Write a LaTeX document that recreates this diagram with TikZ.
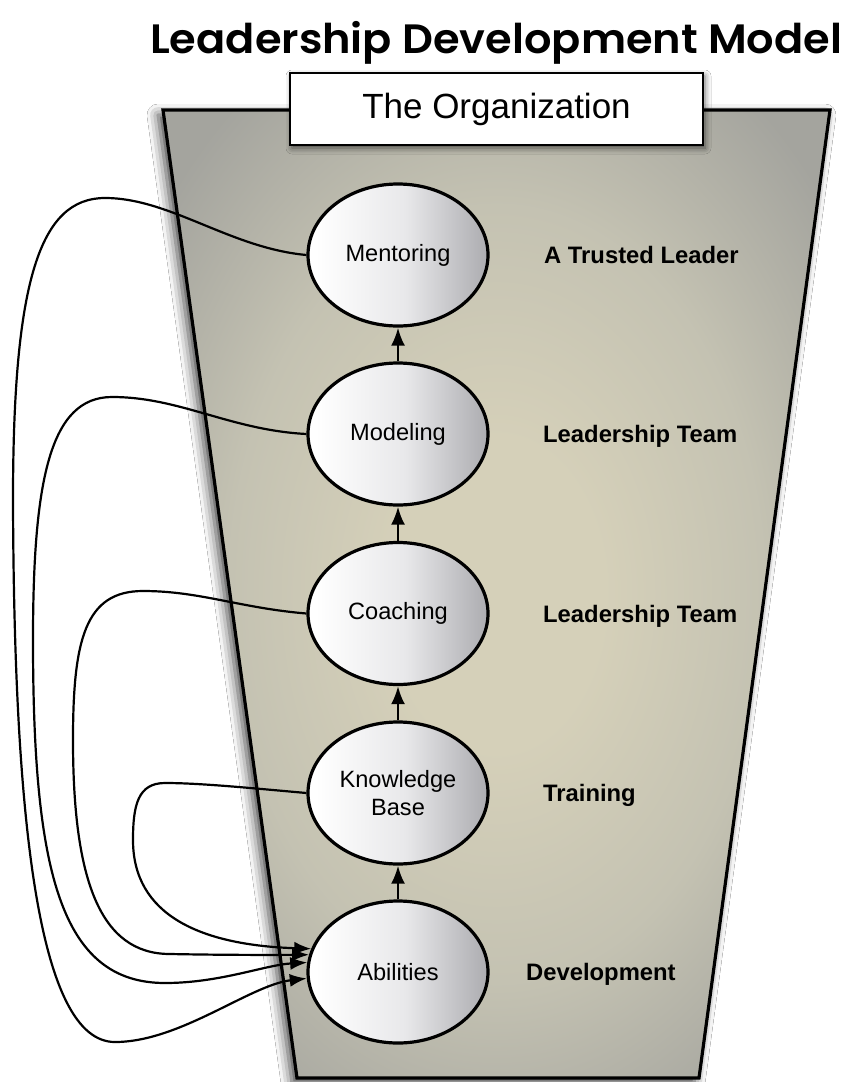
\documentclass[tikz,border=0pt]{standalone}
\usepackage{fontspec}
\usetikzlibrary{shapes.geometric,arrows.meta,shadows.blur}
\newfontfamily\helv{Liberation Sans}
\newfontfamily\titlefont{Poppins SemiBold}

\definecolor{glowin}{RGB}{213,208,185}
\definecolor{glowmid}{RGB}{196,194,178}
\definecolor{glowout}{RGB}{164,164,158}
\definecolor{ballmid}{RGB}{232,232,234}
\definecolor{ballright}{RGB}{172,172,176}

% warm glow filling the funnel
\pgfdeclareradialshading{trapglow}{\pgfpoint{0bp}{0bp}}{%
  color(0bp)=(glowin); color(8bp)=(glowin); color(20bp)=(glowmid);
  color(32bp)=(glowout); color(50bp)=(glowout)}
% left-to-right shading of the stage ellipses
\pgfdeclarehorizontalshading{ballshade}{100bp}{%
  color(0bp)=(white); color(27bp)=(white); color(52bp)=(ballmid);
  color(75bp)=(ballright); color(100bp)=(ballright)}

\tikzset{
  funnel/.style={draw=black, line width=3.2pt, line join=miter, shade, shading=trapglow,
    blur shadow={shadow xshift=-5pt, shadow yshift=-5pt, shadow blur radius=11pt, shadow opacity=75}},
  orgbox/.style={draw=black, line width=2.2pt, fill=white, minimum width=413pt, minimum height=72pt,
    inner sep=0pt, font=\helv\fontsize{35}{40}\selectfont,
    blur shadow={shadow xshift=2pt, shadow yshift=-3pt, shadow blur radius=6pt, shadow opacity=60}},
  stage/.style={ellipse, draw=black, line width=3.2pt, minimum width=180pt, minimum height=142pt,
    inner sep=0pt, shade, shading=ballshade, align=center, text=black,
    font=\helv\fontsize{23.6}{28}\selectfont},
  lab/.style={anchor=base west, inner sep=0pt, font=\helv\bfseries\fontsize{23.8}{28}\selectfont},
  uparrow/.style={line width=2.6pt, -{Latex[length=18pt,width=14pt,fill=black]}},
  loopline/.style={line width=2.2pt, -{Latex[length=17pt,width=13pt,fill=black]}},
}

\begin{document}
\begin{tikzpicture}[x=1pt, y=-1pt]
  \fill[white] (0,0) rectangle (843,1082);
  \useasboundingbox (0,0) rectangle (843,1082);

  % title
  \node[anchor=base west, inner sep=0pt] (title) at (150,53)
    {\resizebox{692pt}{\height}{\titlefont\fontsize{41}{44}\selectfont Leadership Development Model}};

  % the funnel
  \path[funnel] (163,110) -- (830,110) -- (699,1078) -- (297,1078) -- cycle;

  % organization banner
  \node[orgbox] (org) at (496.5,109) {\raisebox{-5pt}{The Organization}};

  % stages
  \node[stage] (ment)  at (398,255)   {Mentoring};
  \node[stage] (model) at (398,434)   {Modeling};
  \node[stage] (coach) at (398,613.5) {Coaching};
  \node[stage] (know)  at (398,793)   {Knowledge\\Base};
  \node[stage] (abil)  at (398,972)   {Abilities};

  % level labels
  \node[lab] (l1) at (544,263.5) {A Trusted Leader};
  \node[lab] (l2) at (543,442.5) {Leadership Team};
  \node[lab] (l3) at (543,622)   {Leadership Team};
  \node[lab] (l4) at (543,801.5) {Training};
  \node[lab] (l5) at (526,980.5) {Development};

  % progression upward
  \draw[uparrow] (abil.north)  -- (know.south);
  \draw[uparrow] (know.north)  -- (coach.south);
  \draw[uparrow] (coach.north) -- (model.south);
  \draw[uparrow] (model.north) -- (ment.south);

  % feedback loops back to abilities
  \draw[loopline] (ment.west) .. controls (230,248) and (170,198) .. (105,198)
    .. controls (40,198) and (13,280) .. (13,500)
    .. controls (14,820) and (38,1042) .. (115,1042)
    .. controls (180,1042) and (250,985) .. (abil.184);
  \draw[loopline] (model.west) .. controls (230,430) and (180,397) .. (112,397)
    .. controls (50,397) and (33,480) .. (33,640)
    .. controls (33,870) and (60,983) .. (165,983)
    .. controls (220,983) and (265,965) .. (abil.174);
  \draw[loopline] (coach.west) .. controls (240,608) and (200,591) .. (143,591)
    .. controls (85,591) and (73,640) .. (73,740)
    .. controls (73,880) and (100,954) .. (170,954)
    .. controls (220,955) and (270,955) .. (abil.169);
  \draw[loopline] (know.west) .. controls (250,788) and (200,783) .. (165,783)
    .. controls (138,783) and (133,805) .. (133,840)
    .. controls (133,915) and (200,945) .. (abil.165);
\end{tikzpicture}
\end{document}
